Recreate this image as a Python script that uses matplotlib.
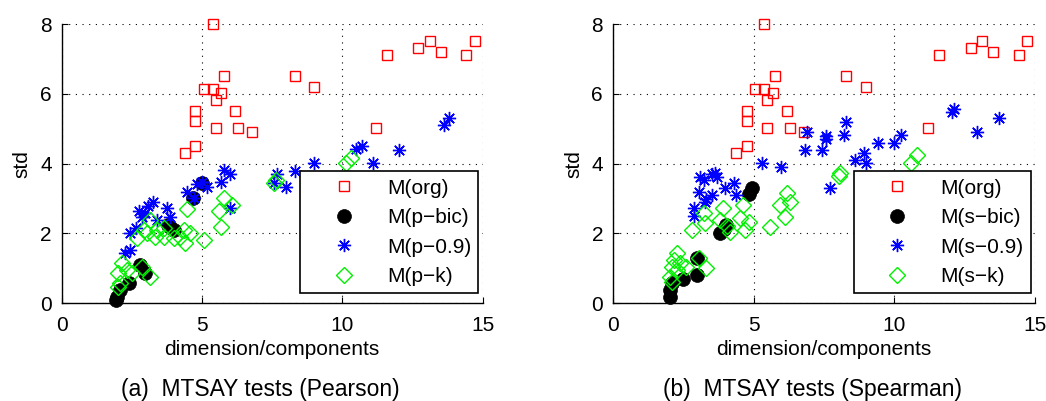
import matplotlib
matplotlib.use('Agg')
import matplotlib.pyplot as plt

plt.rcParams['font.family'] = ['Liberation Sans', 'DejaVu Sans']

# ---- (a) Pearson ----
org_x = [5.38, 5.77, 5.06, 5.38, 5.69, 5.48, 4.76, 4.76, 6.19, 5.48, 6.29, 6.79, 4.76, 4.38,
         8.30, 9.00, 11.2, 11.6, 12.71, 13.11, 13.51, 14.42, 14.73]
org_y = [8.00, 6.51, 6.13, 6.13, 6.01, 5.82, 5.51, 5.22, 5.51, 5.01, 5.01, 4.92, 4.51, 4.31,
         6.51, 6.20, 5.01, 7.11, 7.30, 7.51, 7.21, 7.11, 7.51]

p_bic_x = [5.00, 4.68, 3.87, 3.99, 3.77, 2.80, 2.98, 2.38, 2.08, 1.96, 1.94]
p_bic_y = [3.44, 3.01, 2.20, 2.10, 2.24, 1.10, 0.86, 0.57, 0.38, 0.19, 0.10]

p_09_x = [13.81, 13.61, 10.69, 10.50, 12.02, 11.10, 8.99, 8.30, 7.68, 7.56, 7.99,
          5.77, 5.99, 5.69, 6.01, 5.00, 5.18, 4.82, 4.46, 4.70, 3.75, 3.87,
          3.25, 3.06, 2.74, 2.86, 2.98, 3.39, 2.65, 2.44, 2.26, 2.44]
p_09_y = [5.30, 5.11, 4.52, 4.41, 4.39, 4.03, 4.03, 3.80, 3.70, 3.46, 3.32,
          3.82, 3.70, 3.48, 2.72, 3.48, 3.34, 3.41, 3.20, 3.01, 2.72, 2.48,
          2.91, 2.79, 2.63, 2.48, 2.58, 2.39, 2.15, 2.00, 1.43, 1.53]

p_k_x = [10.30, 10.12, 7.62, 7.56, 5.77, 6.07, 5.60, 5.69, 5.08, 4.46, 4.58, 4.35, 4.40,
         4.23, 3.99, 3.63, 3.39, 3.15, 3.04, 3.33, 2.68, 2.92, 3.63, 2.14, 2.32, 2.02,
         2.50, 2.08, 2.02, 3.15, 2.86]
p_k_y = [4.15, 4.01, 3.53, 3.46, 3.01, 2.82, 2.63, 2.20, 1.81, 2.69, 2.00, 2.10, 1.72,
         1.91, 1.86, 1.91, 2.10, 2.39, 2.00, 1.91, 1.86, 2.10, 2.15, 1.15, 0.95, 0.86,
         0.86, 0.57, 0.48, 0.76, 1.05]

# ---- (b) Spearman ----
s_bic_x = [4.95, 4.85, 3.80, 4.03, 3.94, 2.99, 2.99, 2.51, 2.10, 2.04, 2.02]
s_bic_y = [3.31, 3.12, 2.00, 2.24, 2.12, 1.31, 0.81, 0.69, 0.57, 0.38, 0.19]

s_09_x = [12.12, 12.04, 13.72, 12.93, 10.23, 9.99, 9.42, 8.92, 9.00, 8.60, 8.30, 8.21,
          7.56, 7.59, 7.44, 6.84, 6.90, 7.71, 5.30, 5.99, 2.87, 2.90, 3.11, 3.23,
          3.07, 3.32, 3.29, 3.52, 3.52, 3.70, 3.64, 3.97, 4.29, 4.39]
s_09_y = [5.58, 5.49, 5.30, 4.90, 4.82, 4.60, 4.60, 4.31, 4.01, 4.10, 5.20, 4.82,
          4.79, 4.70, 4.39, 4.39, 4.92, 3.29, 4.01, 3.90, 2.72, 2.50, 3.63, 3.53,
          3.20, 2.98, 2.91, 3.10, 3.70, 3.63, 3.72, 3.29, 3.44, 3.10]

s_k_x = [10.82, 10.58, 8.07, 8.03, 6.19, 6.31, 5.95, 6.13, 5.60, 4.63, 4.53, 4.83, 4.71,
         3.91, 3.82, 4.06, 4.18, 3.23, 3.29, 2.81, 2.28, 2.16, 2.40, 2.61, 2.10, 2.28,
         3.32, 2.04, 2.10, 3.05]
s_k_y = [4.25, 4.01, 3.74, 3.65, 3.15, 2.91, 2.82, 2.48, 2.20, 2.82, 2.43, 2.34, 2.10,
         2.72, 2.39, 2.21, 2.05, 2.58, 2.31, 2.10, 1.43, 1.24, 1.15, 1.05, 1.05, 0.95,
         1.00, 0.76, 0.62, 1.29]

x_ticks = [0, 5, 10, 15]
y_ticks = [0, 2, 4, 6, 8]

fig = plt.figure(figsize=(10.46, 4.01), dpi=100)
ax_a = fig.add_axes([0.059, 0.2436, 0.4025, 0.6965])
ax_b = fig.add_axes([0.5858, 0.2436, 0.4037, 0.6965])

FS = 15


def draw_panel(ax, bic, q09, kk, tag, caption):
    ax.plot(org_x, org_y, 's', color='red', mfc='none', ms=7.8, mew=1.0,
            label='M(org)', clip_on=False)
    ax.plot(bic[0], bic[1], 'o', color='black', ms=10, mew=0.5,
            label=f'M({tag}\u2212bic)', clip_on=False)
    ax.plot(q09[0], q09[1], ls='none', marker=(8, 2, 0), color='blue', ms=9.5, mew=1.0,
            label=f'M({tag}\u22120.9)', clip_on=False)
    ax.plot(kk[0], kk[1], 'D', color='#00f000', mfc='none', ms=7.8, mew=1.0,
            label=f'M({tag}\u2212k)', clip_on=False)

    ax.set_xlim(0, 15)
    ax.set_ylim(0, 8)
    ax.set_xticks(x_ticks)
    ax.set_yticks(y_ticks)
    ax.tick_params(direction='in', length=4, labelsize=FS)
    ax.tick_params(axis='x', pad=9)
    ax.tick_params(axis='y', pad=7)
    ax.grid(True, color='black', linestyle=(0, (1, 5)), linewidth=0.8)
    ax.spines['top'].set_visible(False)
    ax.spines['right'].set_visible(False)
    for s in ('left', 'bottom'):
        ax.spines[s].set_linewidth(1.0)
    ax.set_xlabel('dimension/components', fontsize=FS, labelpad=4)
    ax.set_ylabel('std', fontsize=FS, labelpad=6)

    leg = ax.legend(loc='lower right', bbox_to_anchor=(0.9895, 0.0358), fontsize=FS,
                    frameon=True, fancybox=False, framealpha=1, edgecolor='black',
                    borderaxespad=0, borderpad=0.35, labelspacing=0.5,
                    handlelength=3.5, handletextpad=0.3, markerscale=1.0)
    leg.get_frame().set_linewidth(1.2)

    pos = ax.get_position()
    fig.text(pos.x0 + pos.width / 2 - 0.011, 0.028, caption, ha='center', va='center',
             fontsize=16.5)


draw_panel(ax_a, (p_bic_x, p_bic_y), (p_09_x, p_09_y), (p_k_x, p_k_y), 'p',
           '(a)  MTSAY tests (Pearson)')
draw_panel(ax_b, (s_bic_x, s_bic_y), (s_09_x, s_09_y), (s_k_x, s_k_y), 's',
           '(b)  MTSAY tests (Spearman)')

fig.savefig('out.png', dpi=100)
